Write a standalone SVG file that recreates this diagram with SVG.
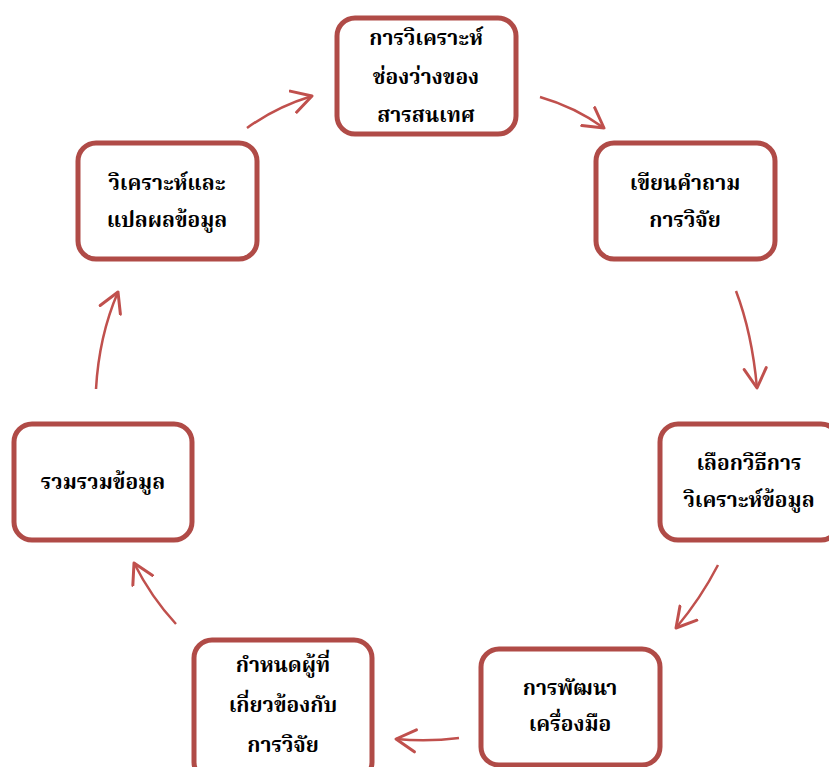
<svg xmlns="http://www.w3.org/2000/svg" width="829" height="767" viewBox="0 0 829 767">
<style>
.box{fill:#fff;stroke:#b04b47;stroke-width:5}
.t{font-family:"Noto Serif Thai","Noto Sans Thai Looped","Noto Sans Thai","Noto Sans","DejaVu Sans",sans-serif;font-weight:bold;font-size:21px;fill:#000;text-anchor:middle}
.arr{fill:none;stroke:#c0504d;stroke-width:2.5;marker-end:url(#ah)}
</style>
<defs>
<marker id="ah" markerUnits="userSpaceOnUse" markerWidth="26" markerHeight="26" refX="16" refY="10" viewBox="0 0 20 20" orient="auto">
<path d="M1,1.5 L16,10 L1,18.5" fill="none" stroke="#c0504d" stroke-width="2.3" stroke-linecap="round" stroke-linejoin="round"/>
</marker>
</defs>
<rect width="829" height="767" fill="#fff"/>
<g id="connectors">
<path class="arr" d="M247,128 Q276,107 312,96"/>
<path class="arr" d="M540,97 Q575,107 604,128"/>
<path class="arr" d="M736,291 Q752,333 757,388"/>
<path class="arr" d="M718,565 Q701,598 676,628"/>
<path class="arr" d="M459,738 Q428,742 396,739"/>
<path class="arr" d="M176,624 Q151,597 134,563"/>
<path class="arr" d="M96,389 Q99,336 118,292"/>
</g>
<g id="n1"><rect class="box" x="337" y="18" width="179" height="116" rx="18"/>
<text class="t" x="426" y="45">การวิเคราะห์</text><text class="t" x="426" y="84">ช่องว่างของ</text><text class="t" x="426" y="122">สารสนเทศ</text></g>
<g id="n2"><rect class="box" x="596" y="143" width="179" height="116" rx="18"/>
<text class="t" x="685" y="190">เขียนคำถาม</text><text class="t" x="685" y="227">การวิจัย</text></g>
<g id="n3"><rect class="box" x="660" y="424" width="179" height="116" rx="18"/>
<text class="t" x="749" y="470">เลือกวิธีการ</text><text class="t" x="749" y="507">วิเคราะห์ข้อมูล</text></g>
<g id="n4"><rect class="box" x="481" y="649" width="179" height="116" rx="18"/>
<text class="t" x="570" y="695">การพัฒนา</text><text class="t" x="570" y="731">เครื่องมือ</text></g>
<g id="n5"><rect class="box" x="194" y="640" width="178" height="140" rx="18"/>
<text class="t" x="283" y="672">กำหนดผู้ที่</text><text class="t" x="283" y="712">เกี่ยวข้องกับ</text><text class="t" x="283" y="752">การวิจัย</text></g>
<g id="n6"><rect class="box" x="14" y="424" width="178" height="116" rx="18"/>
<text class="t" x="103" y="489">รวมรวมข้อมูล</text></g>
<g id="n7"><rect class="box" x="78" y="143" width="179" height="116" rx="18"/>
<text class="t" x="167" y="190">วิเคราะห์และ</text><text class="t" x="167" y="227">แปลผลข้อมูล</text></g>
</svg>
